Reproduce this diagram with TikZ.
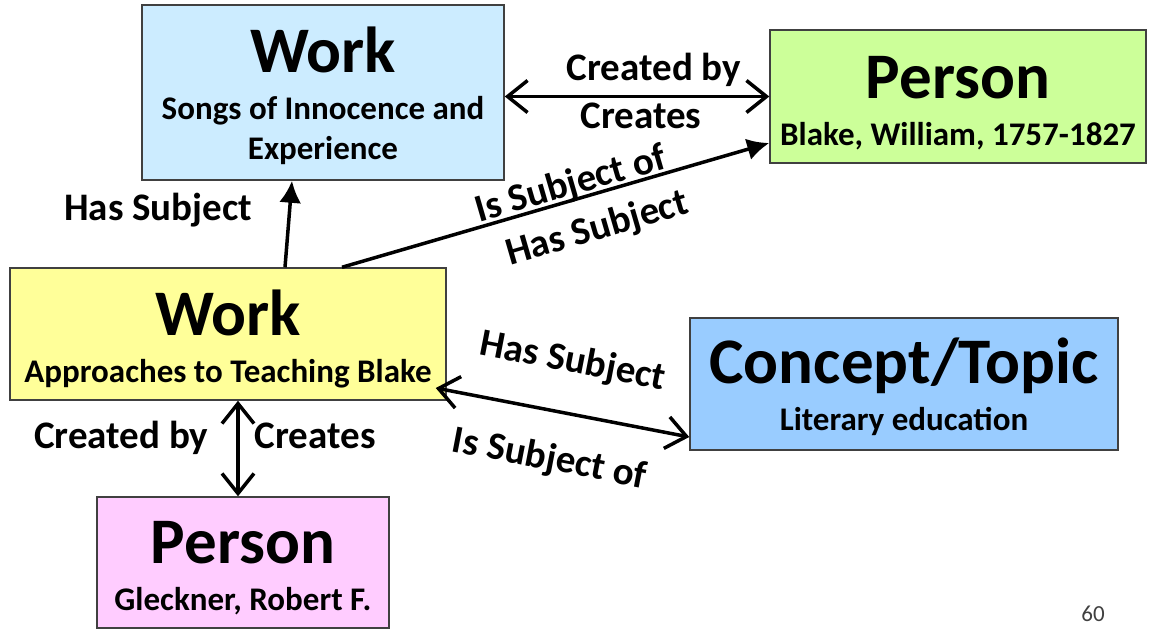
\documentclass[tikz,border=0pt]{standalone}
\usepackage{fontspec}
\setmainfont{Carlito}
\usetikzlibrary{arrows.meta}
\definecolor{workblue}{HTML}{CCECFF}
\definecolor{persongreen}{HTML}{CCFF99}
\definecolor{workyellow}{HTML}{FFFF99}
\definecolor{topicblue}{HTML}{99CCFF}
\definecolor{personpink}{HTML}{FFCCFF}
\definecolor{boxline}{HTML}{404040}
\newcommand{\boxTitle}[1]{{\fontsize{65}{70}\selectfont #1}\\[7pt]}
\begin{document}
\begin{tikzpicture}[x=1pt, y=-1pt]
  \tikzset{box/.style={draw=boxline, line width=1.5pt, inner sep=0pt, align=flush center,
      text height=67pt, text depth=65pt, font=\bfseries\fontsize{33}{40}\selectfont},
    lbl/.style={font=\bfseries\fontsize{39}{44}\selectfont, inner sep=0pt},
    dbl/.style={line width=3.5pt, {Straight Barb[length=20pt,width=32pt]}-{Straight Barb[length=20pt,width=32pt]}},
    one/.style={line width=3.5pt, -{Latex[length=22pt,width=22pt]}}}
  \useasboundingbox (0,0) rectangle (1153,630);
  \node[box, fill=workblue, text width=362pt, text depth=108pt] (w1) at (323,92.5) {\boxTitle{Work}Songs of Innocence and\\Experience};
  \node[box, fill=persongreen, text width=376pt, text height=68pt] (p1) at (958,96.5) {\boxTitle{Person}Blake, William, 1757-1827};
  \node[box, fill=workyellow, text width=436pt] (w2) at (228,334) {\boxTitle{Work}Approaches to Teaching Blake};
  \node[box, fill=topicblue, text width=428pt, text height=65pt, text depth=67pt] (c1) at (904,384) {\boxTitle{Concept/Topic}Literary education};
  \node[box, fill=personpink, text width=292pt, text height=66pt] (p2) at (243,562.5) {\boxTitle{Person}Gleckner, Robert F.};
  \draw[dbl] (w1.east |- p1.west) -- node[lbl, anchor=base, xshift=17pt, yshift=16.5pt] {Created by}
    node[lbl, anchor=base, xshift=4pt, yshift=-31.5pt] {Creates} (p1.west);
  \draw[one] ([xshift=57pt]w2.north) -- node[lbl, anchor=base east, xshift=-34.5pt, yshift=3.5pt] {Has Subject} ([xshift=-31pt]w1.south);
  \draw[one] ([xshift=114pt]w2.north) -- node[lbl, sloped, pos=0.545, anchor=base, yshift=4.5pt] {Is Subject of}
    node[lbl, sloped, pos=0.575, anchor=base, yshift=-45pt] {Has Subject} ([yshift=-46.5pt]p1.west);
  \draw[dbl] ([xshift=-11pt, yshift=-54pt]w2.east) -- node[lbl, sloped, pos=0.5, anchor=base, yshift=41pt] {Has Subject}
    node[lbl, sloped, pos=0.485, anchor=base, yshift=-59pt] {Is Subject of} ([yshift=-53pt]c1.west);
  \draw[dbl] ([xshift=10pt]w2.south) -- node[lbl, anchor=base east, xshift=-28pt] {Created by}
    node[lbl, anchor=base west, xshift=15pt] {Creates} ([xshift=-5pt]p2.north);
  \node[font=\fontsize{23}{26}\selectfont, text=boxline, anchor=base] (pg) at (1093,621) {60};
\end{tikzpicture}
\end{document}
